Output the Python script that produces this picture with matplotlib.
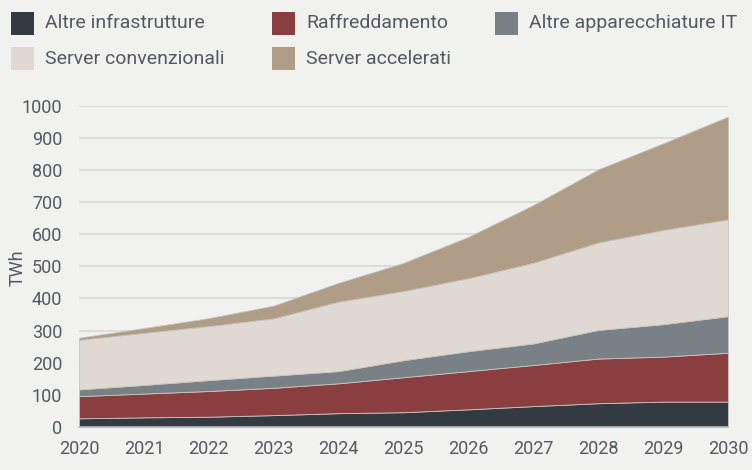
import matplotlib
matplotlib.use("Agg")
import matplotlib.pyplot as plt
from matplotlib.patches import Rectangle

years = [2020, 2021, 2022, 2023, 2024, 2025, 2026, 2027, 2028, 2029, 2030]

# TWh per categoria
altre_infrastrutture = [27, 30, 32, 37, 43, 46, 55, 65, 74, 79, 79]
raffreddamento = [69, 74, 80, 85, 93, 109, 119, 128, 139, 140, 152]
altre_apparecchiature = [21, 27, 34, 38, 38, 53, 62, 67, 89, 101, 114]
server_convenzionali = [154, 162, 168, 178, 216, 215, 227, 251, 272, 293, 301]
server_accelerati = [7, 15, 25, 40, 59, 88, 129, 180, 228, 270, 320]

labels = ['Altre infrastrutture', 'Raffreddamento', 'Altre apparecchiature IT',
          'Server convenzionali', 'Server accelerati']
colors = ['#333a41', '#8b3e3f', '#7a8186', '#e0d9d3', '#b09d87']

bg = '#f1f1ef'
text_col = '#555a5f'
W, H = 752, 470

plt.rcParams['font.family'] = ['Roboto', 'DejaVu Sans']

fig = plt.figure(figsize=(7.52, 4.7), dpi=100, facecolor=bg)
ax = fig.add_axes([79 / W, 1 - 427 / H, (728 - 79) / W, (427 - 105.7) / H])
ax.set_facecolor(bg)

ax.stackplot(years, altre_infrastrutture, raffreddamento, altre_apparecchiature,
             server_convenzionali, server_accelerati, colors=colors,
             linewidth=0.6, edgecolor='#c9c4c0', zorder=2)

ax.set_xlim(2020, 2030)
ax.set_ylim(0, 1000)
ax.set_yticks(range(0, 1001, 100))
ax.set_xticks(years)
ax.yaxis.grid(True, color='#dcdcda', linewidth=1.5, zorder=0)
ax.set_axisbelow(True)
for s in ['top', 'right', 'left']:
    ax.spines[s].set_visible(False)
ax.spines['bottom'].set_color('#b9bcbf')
ax.spines['bottom'].set_linewidth(1.2)
ax.tick_params(axis='both', length=0, labelsize=13, labelcolor=text_col)
ax.tick_params(axis='y', pad=12)
ax.tick_params(axis='x', pad=9)

# etichetta asse y
fig.text(18 / W, 1 - 268 / H, 'TWh', rotation=90, fontsize=13, color=text_col,
         ha='center', va='center')

# legenda: due righe, tre colonne
legend_pos = [(11, 23.5), (272, 23.5), (495, 23.5), (11, 58.5), (272, 58.5)]
for (px, py), lab, col in zip(legend_pos, labels, colors):
    fig.patches.append(Rectangle((px / W, 1 - (py + 11.5) / H), 23 / W, 23 / H,
                                 transform=fig.transFigure, facecolor=col,
                                 edgecolor='none'))
    fig.text((px + 34) / W, 1 - py / H, lab, fontsize=14, color=text_col,
             va='center', ha='left')

fig.savefig('out.png', dpi=100, facecolor=bg)
